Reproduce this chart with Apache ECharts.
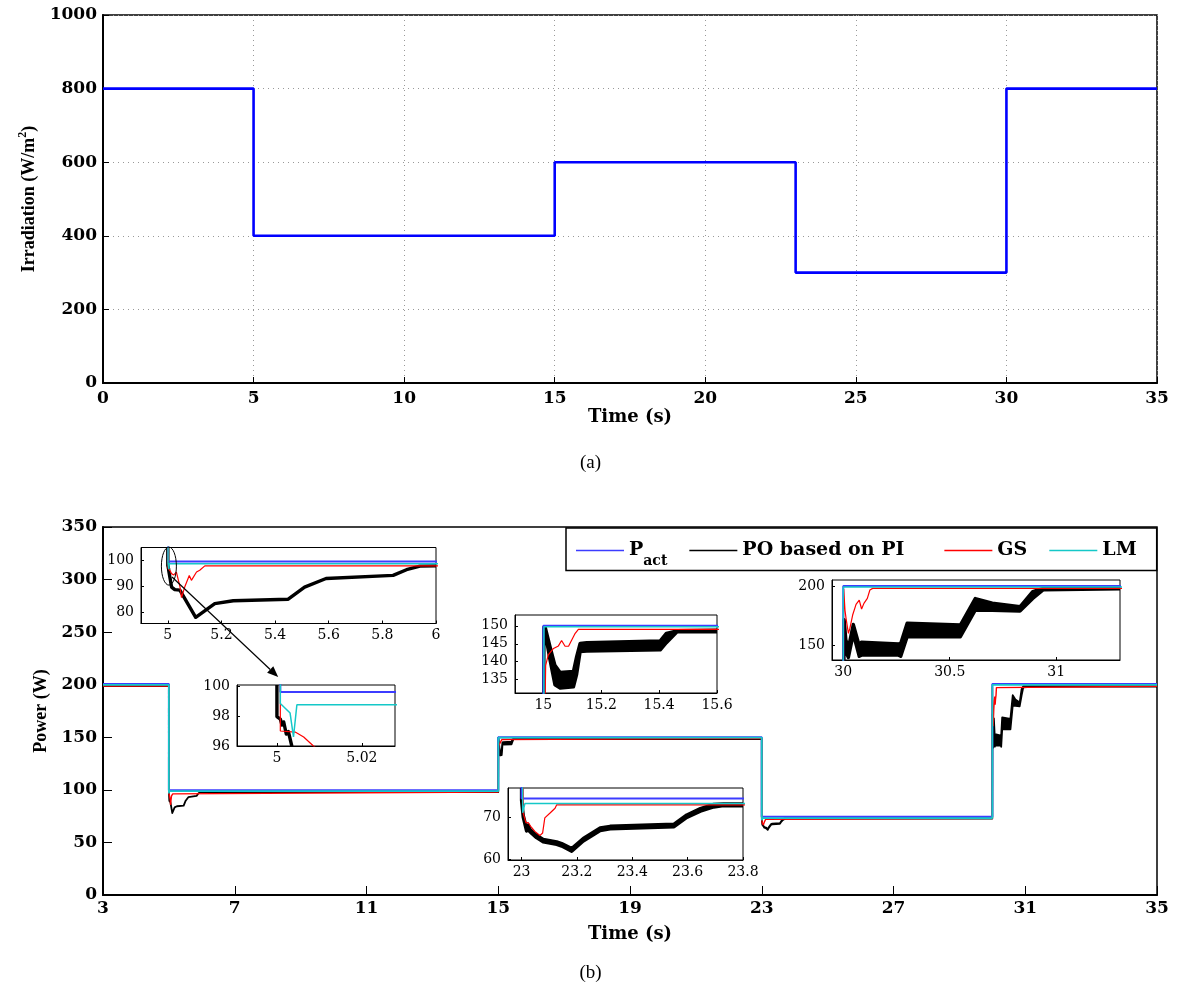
<!DOCTYPE html>
<html><head><meta charset="utf-8">
<script src="https://cdn.jsdelivr.net/npm/echarts@6/dist/echarts.min.js"></script>
<style>html,body{margin:0;padding:0;background:#fff}#c{width:1181px;height:991px}</style>
</head><body><div id="c"></div>
<script>
// ---------------- DATA ----------------
// (a) irradiation step profile [time s, W/m^2]
const irrData = [[0,800],[5,400],[15,600],[23,300],[30,800],[35,800]];
const irrXTicks = [0,5,10,15,20,25,30,35];
const irrYTicks = [0,200,400,600,800,1000];

// (b) power [time s, W]
const pactData = [[3,200.6],[5.0008,200.6],[5.0008,99.6],[15,99.6],[15,150],[23,150],[23,74.4],[30,74.4],[30,200.6],[35,200.6]];
const lmData = [[3,199.8],[5.0008,199.8],[5.0008,98.84],[5.0031,98.2],[5.0039,96.6],[5.0047,98.75],[15.002,98.75],[15.002,149.7],[23.002,149.7],[23.004,71.0],[23.012,73.2],[30.0,73.2],[30.0,199.8],[35,199.8]];
const gsData = [[3,198.7],[5.0008,198.7],[5.0008,97.0],[5.0043,96.93],[5.0063,96.6],[5.0086,96.0],[5.0137,94.9],[5.022,94.4],[5.032,95.5],[5.045,90.0],[5.051,85.6],[5.063,89.7],[5.08,94.2],[5.088,92.3],[5.107,95.5],[5.119,96.2],[5.138,97.9],
  [15.0,97.9],[15.008,139.0],[15.017,141.9],[15.035,143.7],[15.052,144.4],[15.063,145.9],[15.075,144.3],[15.087,144.3],[15.11,147.9],[15.121,149.0],
  [23.0,149.0],[23.006,70.9],[23.016,68.6],[23.024,68.7],[23.033,67.8],[23.048,66.6],[23.066,65.6],[23.076,66.2],[23.084,69.8],[23.102,70.9],[23.121,72.1],[23.127,72.9],
  [30.0,72.9],[30.002,198.0],[30.008,180.0],[30.013,173.2],[30.024,160.5],[30.031,164.7],[30.044,176.0],[30.06,185.0],[30.075,188.7],[30.086,181.1],[30.097,185.9],[30.113,190.1],[30.125,197.2],[30.138,198.6],[35,198.6]];
// PO based on PI: [time, lower envelope, upper envelope] (oscillation band)
const poData = [[3,198.7,198.7],[5.0,198.7,198.7],[5.0,97.96,97.96],[5.0008,97.8,97.8],[5.0012,97.4,97.4],[5.0016,97.6,97.6],[5.0022,96.8,96.8],[5.0027,96.96,96.96],[5.0035,96.0,96.0],
  [5.014,89.7,89.7],[5.026,88.7,88.7],[5.045,88.5,88.5],[5.104,78.0,78.0],[5.175,83.3,83.3],[5.244,84.4,84.4],[5.449,85.0,85.0],[5.51,89.7,89.7],[5.59,93.0,93.0],[5.84,94.2,94.2],[5.89,96.4,96.4],[5.94,97.8,97.8],[6.0,97.9,97.9],
  [15.0,97.9,97.9],[15.002,149.3,149.6],[15.006,148.3,149.7],[15.023,140.5,144.2],[15.04,133.6,139.0],[15.058,132.7,137.0],[15.104,133.0,137.3],[15.115,136.5,141.4],[15.127,142.8,145.1],[15.15,143.0,145.3],[15.404,143.3,145.8],[15.425,145.3,147.9],[15.462,148.3,148.6],[15.6,148.3,148.8],
  [23.0,148.3,148.8],[23.0,74.0,74.0],[23.006,70.0,70.4],[23.018,66.7,67.3],[23.024,67.5,68.1],[23.03,66.5,67.1],[23.054,65.1,65.7],[23.078,64.1,64.7],[23.127,63.5,64.1],[23.145,63.1,63.7],[23.181,61.9,62.5],[23.223,64.3,64.9],[23.284,66.8,67.4],[23.32,67.2,67.8],[23.551,67.7,68.3],[23.597,69.9,70.5],[23.646,71.4,72.0],[23.694,72.4,73.0],[23.73,72.7,73.1],
  [30.0,72.7,73.1],[30.004,160,172],[30.012,145,155],[30.024,140,148],[30.047,160,168],[30.075,141,150],[30.085,142,153],[30.26,142,151.5],[30.27,141,152],[30.30,157.6,169],[30.55,157.6,167.5],[30.62,180.2,190],[30.70,180,186],[30.83,179.4,183],[30.89,190,195.8],[30.94,197.5,198.6],[31.3,198.3,198.6],[35,198.3,198.6]];
const seriesNames = ['P_act','PO based on PI','GS','LM'];
const powXTicks = [3,7,11,15,19,23,27,31,35];
const powYTicks = [0,50,100,150,200,250,300,350];
// inset tick labels
const in1X = [5,5.2,5.4,5.6,5.8,6], in1Y = [80,90,100];
const in2X = [5,5.02], in2Y = [96,98,100];
const in3X = [15,15.2,15.4,15.6], in3Y = [135,140,145,150];
const in4X = [30,30.5,31], in4Y = [150,200];
const in5X = [23,23.2,23.4,23.6,23.8], in5Y = [60,70];

// ---------------- STYLE ----------------
const COL = {'P_act':'#3c3cff','PO based on PI':'#000000','GS':'#ff0000','LM':'#14c8c8'};
const BOLD = {fontFamily:'DejaVu Serif', fontWeight:'bold', fontSize:17, color:'#000'};
const INS = {fontFamily:'DejaVu Serif', fontSize:14, color:'#000'};
const fmt = v => String(Math.round(v*10000)/10000);

const chart = echarts.init(document.getElementById('c'), null, {renderer:'canvas'});

const grids = [
  {left:103, top:15, width:1054, height:368},
  {left:103, top:527, width:1054, height:368},
  {left:141, top:547.5, width:295, height:76},
  {left:237, top:685, width:158, height:61},
  {left:515, top:615, width:202, height:78},
  {left:832, top:580, width:288, height:80},
  {left:508, top:788, width:235, height:72}
].map(g => Object.assign({show:true, borderColor:'#000', borderWidth:1, backgroundColor:'#fff', containLabel:false}, g));
grids[0].borderWidth = 1.5; grids[1].borderWidth = 1.5;

const xAxes = [], yAxes = [];
// top chart
xAxes.push({gridIndex:0, type:'value', min:0, max:35, interval:5,
  name:'Time (s)', nameLocation:'middle', nameGap:21, nameTextStyle:Object.assign({}, BOLD, {fontSize:18}),
  axisLine:{lineStyle:{color:'#000', width:2}}, axisTick:{inside:true, length:6, lineStyle:{color:'#000'}},
  axisLabel:Object.assign({margin:7, formatter:fmt}, BOLD),
  splitLine:{show:true, lineStyle:{color:'#999', type:[1,4], width:1}}});
yAxes.push({gridIndex:0, type:'value', min:0, max:1000, interval:200,
  name:'{n|Irradiation (W/m}{s|2}{n|)}', nameLocation:'middle', nameGap:62, nameRotate:90,
  nameTextStyle:{rich:{n:{fontFamily:'Liberation Serif', fontWeight:'bold', fontSize:18, lineHeight:22, verticalAlign:'bottom', color:'#000'}, s:{fontFamily:'Liberation Serif', fontWeight:'bold', fontSize:12, lineHeight:14, verticalAlign:'top', color:'#000'}}},
  axisLine:{lineStyle:{color:'#000', width:2}}, axisTick:{inside:true, length:6, lineStyle:{color:'#000'}},
  axisLabel:Object.assign({margin:6, formatter:fmt}, BOLD),
  splitLine:{show:true, lineStyle:{color:'#999', type:[1,4], width:1}}});
// bottom main chart
xAxes.push({gridIndex:1, type:'value', min:3, max:35, interval:4,
  name:'Time (s)', nameLocation:'middle', nameGap:30, nameTextStyle:Object.assign({}, BOLD, {fontSize:18}),
  axisLine:{lineStyle:{color:'#000', width:2}}, axisTick:{inside:true, length:9, lineStyle:{color:'#000'}},
  axisLabel:Object.assign({margin:5, formatter:fmt}, BOLD), splitLine:{show:false}});
yAxes.push({gridIndex:1, type:'value', min:0, max:350, interval:50,
  name:'Power (W)', nameLocation:'middle', nameGap:53, nameRotate:90,
  nameTextStyle:{fontFamily:'Liberation Serif', fontWeight:'bold', fontSize:18, color:'#000'},
  axisLine:{lineStyle:{color:'#000', width:2}}, axisTick:{inside:true, length:9, lineStyle:{color:'#000'}},
  axisLabel:Object.assign({margin:6, formatter:fmt}, BOLD), splitLine:{show:false}});
// insets
const insets = [
  {x:[4.9,6], y:[75.6,105], xt:in1X, yt:in1Y},
  {x:[4.9906,5.0278], y:[96,100.07], xt:in2X, yt:in2Y},
  {x:[14.902,15.6], y:[131.3,153], xt:in3X, yt:in3Y},
  {x:[29.947,31.3], y:[137.9,205.7], xt:in4X, yt:in4Y},
  {x:[22.951,23.8], y:[59.8,76.9], xt:in5X, yt:in5Y}
];
insets.forEach((s, i) => {
  const gi = i + 2;
  xAxes.push({gridIndex:gi, type:'value', min:s.x[0], max:s.x[1],
    axisLine:{onZero:false, lineStyle:{color:'#000', width:1}},
    axisTick:{inside:true, length:3, customValues:s.xt, lineStyle:{color:'#000'}},
    axisLabel:Object.assign({margin:5, customValues:s.xt, formatter:fmt}, INS), splitLine:{show:false}});
  yAxes.push({gridIndex:gi, type:'value', min:s.y[0], max:s.y[1],
    axisLine:{onZero:false, lineStyle:{color:'#000', width:1}},
    axisTick:{inside:true, length:3, customValues:s.yt, lineStyle:{color:'#000'}},
    axisLabel:Object.assign({margin:7, customValues:s.yt, formatter:fmt}, INS), splitLine:{show:false}});
});

function poRender(lw) {
  return function (params, api) {
    if (params.dataIndex !== 0) return null;
    const up = [], dn = [];
    for (const p of poData) { up.push(api.coord([p[0], p[2]])); dn.push(api.coord([p[0], p[1]])); }
    const pts = up.concat(dn.reverse());
    const cs = params.coordSys;
    return {type:'group', clipPath:{type:'rect', shape:{x:cs.x, y:cs.y, width:cs.width, height:cs.height}},
      children:[{type:'polygon', shape:{points:pts}, style:{fill:'#000', stroke:'#000', lineWidth:lw, lineJoin:'round'}}]};
  };
}

const series = [{type:'line', xAxisIndex:0, yAxisIndex:0, data:irrData, step:'end', symbol:'none',
  lineStyle:{color:'#0000ff', width:2.6}, itemStyle:{color:'#0000ff'}, silent:true}];
for (let g = 1; g <= 6; g++) {
  const main = g === 1;
  series.push({name:'P_act', type:'line', xAxisIndex:g, yAxisIndex:g, data:pactData, symbol:'none', clip:true,
    lineStyle:{color:COL['P_act'], width:2}, itemStyle:{color:COL['P_act']}});
  series.push({name:'PO based on PI', type:'custom', xAxisIndex:g, yAxisIndex:g, data:poData, encode:{x:0, y:[1,2]},
    renderItem: poRender(main ? 1.8 : 3.4), itemStyle:{color:'#000'}});
  series.push({name:'GS', type:'line', xAxisIndex:g, yAxisIndex:g, data:gsData, symbol:'none', clip:true,
    lineStyle:{color:COL['GS'], width: main ? 1.4 : 1.2}, itemStyle:{color:COL['GS']}});
  series.push({name:'LM', type:'line', xAxisIndex:g, yAxisIndex:g, data:lmData, symbol:'none', clip:true,
    lineStyle:{color:COL['LM'], width: main ? 1.8 : 1.5}, itemStyle:{color:COL['LM']}});
}

const LT = {fontFamily:'DejaVu Serif', fontWeight:'bold', color:'#000'};
chart.setOption({
  animation:false,
  backgroundColor:'#fff',
  grid:grids, xAxis:xAxes, yAxis:yAxes, series:series,
  legend:{
    left:566, top:528, orient:'horizontal', itemGap:22, itemWidth:48, itemHeight:1.6,
    padding:[13,20,2,10], borderColor:'#000', borderWidth:1.5, backgroundColor:'#fff', selectedMode:false,
    data: seriesNames.map(n => ({name:n, icon:'rect', itemStyle:{color:COL[n]}})),
    formatter: n => n === 'P_act' ? '{p|P}{s|act}' : (n === 'PO based on PI' ? '{t|' + n + '}{g|}' : '{t|' + n + '}'),
    textStyle:{rich:{
      p:Object.assign({fontSize:19, lineHeight:36, verticalAlign:'middle'}, LT),
      s:Object.assign({fontSize:14, lineHeight:20, verticalAlign:'bottom'}, LT),
      t:Object.assign({fontSize:19, lineHeight:36, verticalAlign:'middle'}, LT),
      g:{width:18, lineHeight:36}
    }}
  }
});

// annotation: ellipse around the zoomed region and arrow to the detail inset
const ec = chart.convertToPixel({gridIndex:2}, [5.004, 97.8]);
const a0 = chart.convertToPixel({gridIndex:2}, [5.0156, 93.6]);
const a1 = chart.convertToPixel({gridIndex:3}, [5.0003, 100.6]);
const dx = a1[0]-a0[0], dy = a1[1]-a0[1], L = Math.hypot(dx, dy), ux = dx/L, uy = dy/L;
const hl = 11, hw = 4.5;
const base = [a1[0]-ux*hl, a1[1]-uy*hl];
chart.setOption({graphic:[
  {type:'ellipse', shape:{cx:ec[0], cy:ec[1], rx:7.5, ry:19}, style:{fill:null, stroke:'#000', lineWidth:1}, z:100},
  {type:'line', shape:{x1:a0[0], y1:a0[1], x2:base[0], y2:base[1]}, style:{stroke:'#000', lineWidth:1.2}, z:100},
  {type:'polygon', shape:{points:[a1, [base[0]-uy*hw, base[1]+ux*hw], [base[0]+uy*hw, base[1]-ux*hw]]}, style:{fill:'#000'}, z:100},
  {type:'text', left:'center', top:454, style:{text:'(a)', font:'19px "Liberation Serif"', fill:'#000'}, z:100},
  {type:'text', left:'center', top:964, style:{text:'(b)', font:'19px "Liberation Serif"', fill:'#000'}, z:100}
]});
</script></body></html>
